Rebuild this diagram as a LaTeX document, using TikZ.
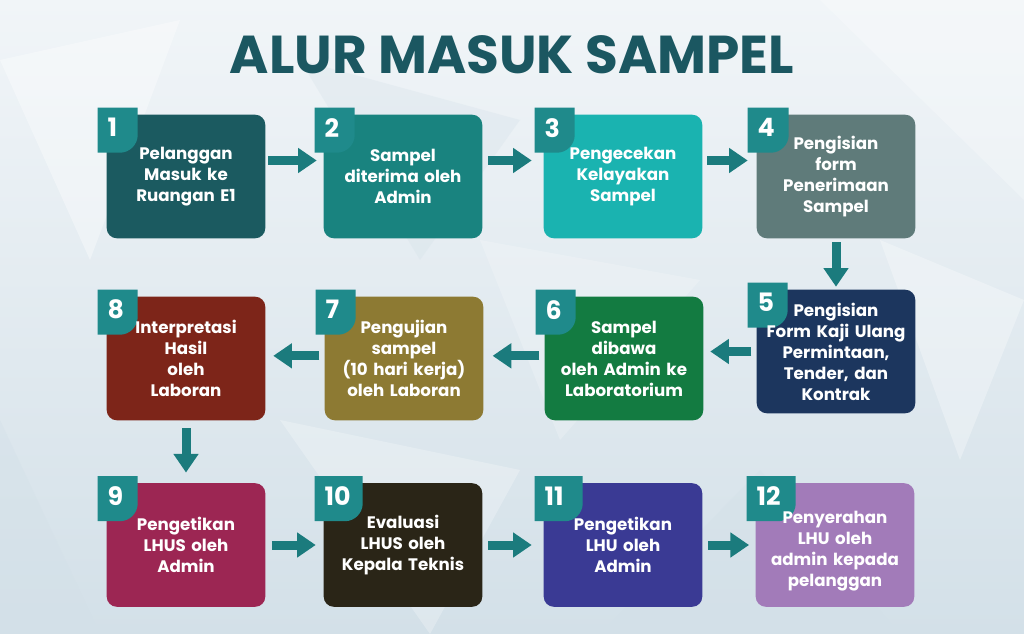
\documentclass[tikz,border=0pt]{standalone}
\usepackage{fontspec}
\setmainfont{Poppins}
\usetikzlibrary{arrows.meta,calc}
\pgfdeclarelayer{bg}
\pgfdeclarelayer{tabs}
\pgfsetlayers{bg,tabs,main}
\definecolor{bgtop}{HTML}{F1F5F8}
\definecolor{bgbot}{HTML}{D3E0E8}
\definecolor{titlec}{HTML}{1B5761}
\definecolor{tabc}{HTML}{1F8A8B}
\definecolor{arrc}{HTML}{1B7B7D}
\definecolor{c1}{HTML}{1B5A60}
\definecolor{c2}{HTML}{19837F}
\definecolor{c3}{HTML}{1AB3B0}
\definecolor{c4}{HTML}{5F7B7A}
\definecolor{c5}{HTML}{1C365E}
\definecolor{c6}{HTML}{137B41}
\definecolor{c7}{HTML}{8D7A33}
\definecolor{c8}{HTML}{7D2519}
\definecolor{c9}{HTML}{9C2653}
\definecolor{c10}{HTML}{2A2517}
\definecolor{c11}{HTML}{3A3A94}
\definecolor{c12}{HTML}{A27BB9}
\newcommand\numtab[4]{%
  \begin{pgfonlayer}{tabs}
  \fill[#4, rounded corners=7.5pt] (#1.south west) rectangle (#1.north east);
  \fill[tabc] ([shift={(-9,7)}]#1.north west) -- ([shift={(#3-9,7)}]#1.north west)
    -- ([shift={(#3-9,-20)}]#1.north west) arc[start angle=0,end angle=-90,radius=13.5pt]
    -- ([shift={(-9,-38)}]#1.north west) -- cycle;
  \end{pgfonlayer}
  \node[numtxt] (#1n) at ([shift={(0.5,-13)}]#1.north west) {#2};}
\begin{document}
\begin{tikzpicture}[x=0.75pt,y=0.75pt,
  box/.style={rectangle, minimum width=118.5pt, minimum height=92.25pt,
    inner sep=0pt, text=white, font=\bfseries\fontsize{12.5}{15.75}\selectfont, align=center, text width=116pt},
  numtxt/.style={anchor=west, text=white, inner sep=0pt, font=\bfseries\fontsize{19}{19}\selectfont},
  barrow/.style={draw=arrc, line width=6.75pt, -{Triangle[width=18pt,length=14pt]}}]
\useasboundingbox (0,0) rectangle (1024,-634);
\begin{pgfonlayer}{bg}
\shade[top color=bgtop, bottom color=bgbot] (0,0) rectangle (1024,-634);
\fill[white, opacity=0.35] (0,-60) -- (180,-20) -- (90,-260) -- cycle;
\fill[white, opacity=0.25] (820,0) -- (1024,0) -- (1024,-200) -- cycle;
\fill[white, opacity=0.3] (880,-240) -- (1024,-300) -- (960,-460) -- cycle;
\fill[white, opacity=0.25] (280,-420) -- (520,-470) -- (430,-634) -- cycle;
\fill[bgbot, opacity=0.4] (0,-420) -- (100,-634) -- (0,-634) -- cycle;
\fill[bgbot, opacity=0.35] (600,-634) -- (760,-470) -- (900,-634) -- cycle;
\fill[white, opacity=0.2] (480,-240) -- (700,-280) -- (560,-440) -- cycle;
\fill[bgbot, opacity=0.3] (300,-60) -- (520,-120) -- (420,-260) -- cycle;
\end{pgfonlayer}
% title
\node[text=titlec, font=\bfseries\fontsize{40}{40}\selectfont, inner sep=0pt] (title) at (512,-55) {ALUR MASUK SAMPEL};
% boxes
\node[box] (b1)  at (186,-176.5) {Pelanggan\\Masuk ke\\Ruangan E1};
\node[box] (b2)  at (403,-176.5) {Sampel\\diterima oleh\\Admin};
\node[box] (b3)  at (623,-176.5) {Pengecekan\\Kelayakan\\Sampel};
\node[box] (b4)  at (836,-176.5) {Pengisian\\form\\Penerimaan\\Sampel};
\node[box] (b5)  at (836,-351.5) {Pengisian\\Form Kaji Ulang\\Permintaan,\\Tender, dan\\Kontrak};
\node[box] (b6)  at (624,-358.5) {Sampel\\dibawa\\oleh Admin ke\\Laboratorium};
\node[box] (b7)  at (404,-358.5) {Pengujian\\sampel\\(10 hari kerja)\\oleh Laboran};
\node[box] (b8)  at (186,-358.5) {Interpretasi\\Hasil\\oleh\\Laboran};
\node[box] (b9)  at (186,-545) {Pengetikan\\LHUS oleh\\Admin};
\node[box] (b10) at (403,-545) {Evaluasi\\LHUS oleh\\Kepala Teknis};
\node[box] (b11) at (623,-545) {Pengetikan\\LHU oleh\\Admin};
\node[box] (b12) at (835,-545) {\rule{0pt}{18pt}Penyerahan\\LHU oleh\\admin kepada\\pelanggan};
% box fills and tabs
\numtab{b1}{1}{40}{c1}
\numtab{b2}{2}{40}{c2}
\numtab{b3}{3}{40}{c3}
\numtab{b4}{4}{41}{c4}
\numtab{b5}{5}{40}{c5}
\numtab{b6}{6}{40}{c6}
\numtab{b7}{7}{40}{c7}
\numtab{b8}{8}{40}{c8}
\numtab{b9}{9}{40}{c9}
\numtab{b10}{10}{48}{c10}
\numtab{b11}{11}{48}{c11}
\numtab{b12}{12}{49}{c12}
% arrows
\draw[barrow, shorten <=2.25pt, shorten >=5.25pt] ([yshift=12pt]b1.east) -- ([yshift=12pt]b2.west);
\draw[barrow, shorten <=4.5pt, shorten >=9pt] ([yshift=12pt]b2.east) -- ([yshift=12pt]b3.west);
\draw[barrow, shorten <=3.75pt, shorten >=6.75pt] ([yshift=12pt]b3.east) -- ([yshift=12pt]b4.west);
\draw[barrow, shorten <=3pt, shorten >=2.25pt] (b4.south) -- (b5.north);
\draw[barrow, shorten <=4pt, shorten >=5.25pt] (b5.west) -- (b5.west -| b6.east);
\draw[barrow, shorten <=4pt, shorten >=7pt] ([yshift=2pt]b6.west) -- ([yshift=2pt]b7.east);
\draw[barrow, shorten <=4pt, shorten >=6pt] ([yshift=2pt]b7.west) -- ([yshift=2pt]b8.east);
\draw[barrow, shorten <=6pt, shorten >=8pt] (b8.south) -- (b9.north);
\draw[barrow, shorten <=5pt, shorten >=6pt] (b9.east) -- (b10.west);
\draw[barrow, shorten <=4.5pt, shorten >=9pt] (b10.east) -- (b11.west);
\draw[barrow, shorten <=4.5pt, shorten >=5pt] (b11.east) -- (b12.west);
\end{tikzpicture}
\end{document}
